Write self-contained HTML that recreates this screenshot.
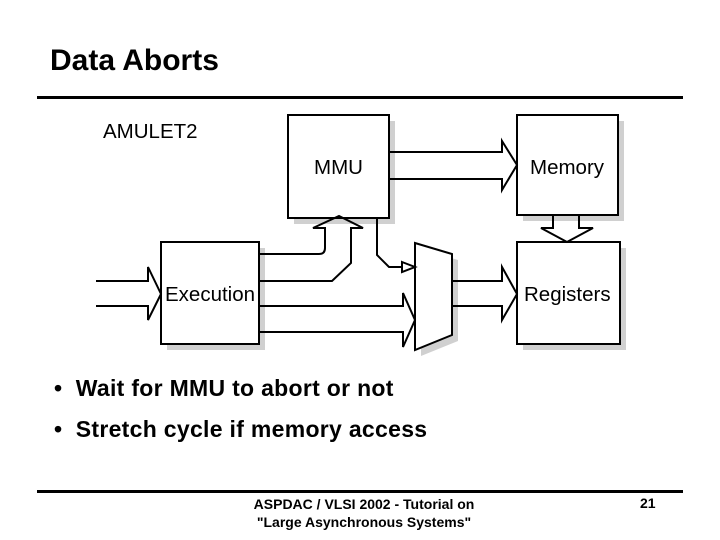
<!DOCTYPE html>
<html><head><style>
body{margin:0;width:720px;height:540px;background:#fff;position:relative;overflow:hidden;font-family:"Liberation Sans",Arial,sans-serif}
.t{position:absolute;white-space:nowrap}
</style></head><body>
<div class="t" style="left:50px;top:44px;font-size:30px;font-weight:bold">Data Aborts</div>
<div style="position:absolute;left:37px;top:96px;width:646px;height:3px;background:#000"></div>
<svg width="720" height="540" style="position:absolute;left:0;top:0" font-family="Liberation Sans, Arial, sans-serif">
<g fill="#d0d0d0">
<rect x="294" y="121" width="101" height="103"/>
<rect x="523" y="121" width="101" height="100"/>
<rect x="167" y="248" width="98" height="102"/>
<rect x="523" y="248" width="103" height="102"/>
<polygon points="421,249 458,260 458,341 421,356"/>
</g>
<g fill="#fff" stroke="#000" stroke-width="2">
<rect x="288" y="115" width="101" height="103"/>
<rect x="517" y="115" width="101" height="100"/>
<rect x="161" y="242" width="98" height="102"/>
<rect x="517" y="242" width="103" height="102"/>
<polygon points="415,243 452,254 452,335 415,350"/>
</g>
<g fill="none" stroke="#000" stroke-width="2" stroke-linejoin="miter">
<path d="M389,152 H502 V141 L517,165 L502,190 V179 H389"/>
<path d="M553,215 V228 H541 L567,242 L593,228 H579 V215"/>
<path d="M96,281 H148 V267 L161,294 L148,320 V306 H96"/>
<path d="M259,254 H319 Q325,254 325,248 V228 H313 L339,216 L363,228 H351 V263 L332,281 H259"/>
<path d="M259,306 H403 V293 L415,320 L403,347 V332 H259"/>
<path d="M452,281 H502 V267 L517,294 L502,320 V306 H452"/>
<path d="M377,218 V255 L389,267 H402"/>
<polygon points="402,262 415,267 402,272" fill="#fff"/>
</g>
<g font-size="20.5" fill="#000">
<text x="103" y="138">AMULET2</text>
<text x="314" y="174">MMU</text>
<text x="530" y="174">Memory</text>
<text x="165" y="301">Execution</text>
<text x="524" y="301">Registers</text>
</g>
</svg>
<div class="t" style="left:54px;top:375px;font-size:23px;font-weight:bold;letter-spacing:0.3px">•&nbsp;&nbsp;Wait for MMU to abort or not</div>
<div class="t" style="left:54px;top:416px;font-size:23px;font-weight:bold;letter-spacing:0.3px">•&nbsp;&nbsp;Stretch cycle if memory access</div>
<div style="position:absolute;left:37px;top:490px;width:646px;height:3px;background:#000"></div>
<div class="t" style="left:214px;top:495px;width:300px;text-align:center;font-size:14px;font-weight:bold;line-height:18px">ASPDAC / VLSI 2002 - Tutorial on<br>"Large Asynchronous Systems"</div>
<div class="t" style="left:640px;top:495px;font-size:14px;font-weight:bold">21</div>
</body></html>
